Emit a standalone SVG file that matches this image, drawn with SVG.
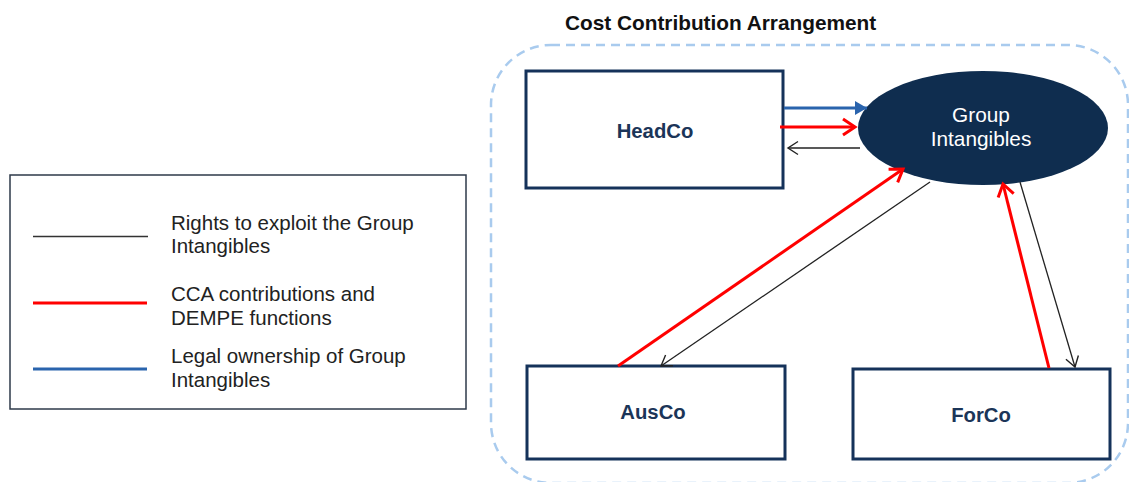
<svg xmlns="http://www.w3.org/2000/svg" width="1129" height="482" viewBox="0 0 1129 482">
<defs>
<style>
text{font-family:"Liberation Sans",Arial,sans-serif}
.box{fill:#fff;stroke:#15325a;stroke-width:3}
.lbl{font-size:20.3px;font-weight:bold;fill:#1b3558;text-anchor:middle}
.leg{font-size:20.5px;fill:#222}
.blk{stroke:#222;stroke-width:1.3;fill:none}
.red{stroke:#ff0000;stroke-width:3;fill:none}
.blu{stroke:#2a64ad;stroke-width:3;fill:none}
</style>
<marker id="mBlk" markerUnits="userSpaceOnUse" markerWidth="14" markerHeight="16" refX="11" refY="8" orient="auto">
<path d="M1,1.5 L11,8 L1,14.5" fill="none" stroke="#222" stroke-width="1.4"/>
</marker>
<marker id="mRed" markerUnits="userSpaceOnUse" markerWidth="18" markerHeight="20" refX="14" refY="10" orient="auto">
<path d="M2,2 L14,10 L2,18" fill="none" stroke="#ff0000" stroke-width="3"/>
</marker>
<marker id="mBlu" markerUnits="userSpaceOnUse" markerWidth="14" markerHeight="14" refX="12" refY="7" orient="auto">
<path d="M0,0 L12,7 L0,14 Z" fill="#2a64ad"/>
</marker>
</defs>
<rect width="1129" height="482" fill="#fff"/>

<g id="container">
<rect x="491" y="45" width="637" height="438" rx="60" ry="60" fill="none" stroke="#a9cbee" stroke-width="2.5" stroke-dasharray="9,6"/>
<text x="565" y="30" style="font-size:20.8px;font-weight:bold;fill:#111">Cost Contribution Arrangement</text>
</g>

<g id="legend">
<rect x="10" y="175" width="456" height="234" fill="#fff" stroke="#2e3a4a" stroke-width="1.5"/>
<line x1="33" y1="236.5" x2="148" y2="236.5" stroke="#333" stroke-width="1.5"/>
<line x1="33" y1="303" x2="147" y2="303" stroke="#ff0000" stroke-width="3"/>
<line x1="33" y1="369" x2="147" y2="369" stroke="#2a64ad" stroke-width="3"/>
<text class="leg" x="171" y="230">Rights to exploit the Group</text>
<text class="leg" x="171" y="253">Intangibles</text>
<text class="leg" x="171" y="301">CCA contributions and</text>
<text class="leg" x="171" y="325">DEMPE functions</text>
<text class="leg" x="171" y="363">Legal ownership of Group</text>
<text class="leg" x="171" y="387">Intangibles</text>
</g>

<g id="headco">
<rect class="box" x="526" y="71" width="257" height="117"/>
<text class="lbl" x="655" y="138">HeadCo</text>
</g>

<g id="ausco">
<rect class="box" x="527" y="366" width="258" height="93"/>
<text class="lbl" x="653" y="419">AusCo</text>
</g>

<g id="forco">
<rect class="box" x="853" y="369" width="257" height="90"/>
<text class="lbl" x="981" y="422">ForCo</text>
</g>

<g id="group-intangibles">
<ellipse cx="983" cy="128" rx="125" ry="57" fill="#0f2d4f"/>
<text x="981" y="122" style="font-size:20.8px;fill:#fff;text-anchor:middle">Group</text>
<text x="981" y="146" style="font-size:20.8px;fill:#fff;text-anchor:middle">Intangibles</text>
</g>

<g id="connectors">
<line class="blu" x1="784" y1="108" x2="867" y2="108" marker-end="url(#mBlu)"/>
<line class="red" x1="780" y1="127" x2="855" y2="127" marker-end="url(#mRed)"/>
<line class="blk" x1="860" y1="148" x2="788" y2="148" marker-end="url(#mBlk)"/>
<line class="red" x1="618" y1="366" x2="903" y2="169" marker-end="url(#mRed)"/>
<line class="blk" x1="930" y1="182" x2="661" y2="366" marker-end="url(#mBlk)"/>
<line class="red" x1="1049" y1="368" x2="1003" y2="184" marker-end="url(#mRed)"/>
<line class="blk" x1="1020" y1="182" x2="1075" y2="367" marker-end="url(#mBlk)"/>
</g>
</svg>
